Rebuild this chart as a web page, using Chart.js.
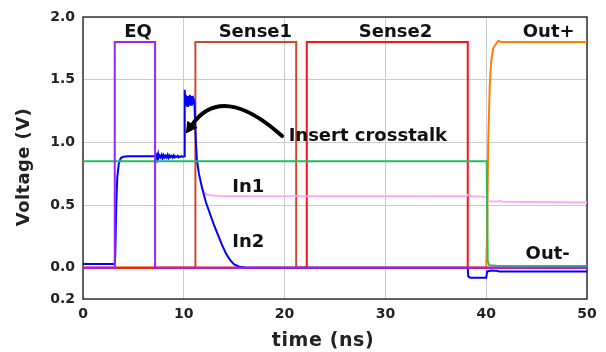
<!DOCTYPE html>
<html>
<head>
<meta charset="utf-8">
<script src="https://cdn.jsdelivr.net/npm/chart.js@4/dist/chart.umd.min.js"></script>
<style>
  html, body { margin: 0; padding: 0; background: #fff; }
  #wrap { width: 606px; height: 352px; position: relative; }
</style>
</head>
<body>
<div id="wrap"><canvas id="c" width="606" height="352"></canvas></div>
<script>
// Simulated sense-amplifier waveforms (time in ns, voltage in V)

const eqTimes = [0, 3.15, 3.15, 7.15, 7.15, 50];
const eqValues = [0, 0, 1.8, 1.8, 0, 0];

const sense1Times = [0, 11.15, 11.15, 21.15, 21.15, 50];
const sense1Values = [0, 0, 1.8, 1.8, 0, 0];

const sense2Times = [0, 22.2, 22.2, 38.17, 38.17, 50];
const sense2Values = [0, 0, 1.8, 1.8, 0, 0];

const outPlusTimes = [0, 40.0, 40.1, 40.2, 40.35, 40.5, 40.7, 41.0, 41.2, 41.5, 50];
const outPlusValues = [0, 0, 0.3, 1.0, 1.45, 1.65, 1.75, 1.79, 1.81, 1.8, 1.8];

const outMinusTimes = [0, 40.05, 40.15, 40.3, 41.0, 50];
const outMinusValues = [0.85, 0.85, 0.05, 0.02, 0.015, 0.013];

const in1Times = [11.75, 12.0, 12.4, 13.5, 38.0, 38.3, 38.5, 40.0, 40.15, 41.2, 41.4, 41.6, 50];
const in1Values = [0.66, 0.60, 0.58, 0.572, 0.57, 0.585, 0.57, 0.565, 0.53, 0.527, 0.535, 0.525, 0.52];

const in2Times = [
  0, 3.15, 3.2, 3.3, 3.4, 3.55, 3.75, 4.0, 4.5, 7.2,
  7.3, 7.35, 7.45, 7.5, 7.6, 7.7, 7.8, 7.9, 8.0, 8.1, 8.2, 8.3, 8.4, 8.5,
  8.6, 8.7, 8.8, 8.9, 9.0, 9.1, 9.2, 9.3, 9.4, 9.5, 9.6, 9.7, 9.8, 9.9, 10.0, 10.05,
  10.08, 10.1, 10.15, 10.2, 10.25, 10.3, 10.35, 10.4, 10.45, 10.5, 10.55, 10.6,
  10.65, 10.7, 10.75, 10.8, 10.85, 10.9, 10.95, 11.0, 11.05,
  11.2, 11.3, 11.5, 11.8, 12.2, 12.6, 13.0, 13.4, 13.8, 14.2, 14.6, 15.0, 15.5, 16.2,
  38.17, 38.22, 38.4, 40.0, 40.1, 40.5, 41.0, 41.3, 50
];
const in2Values = [
  0.03, 0.03, 0.1, 0.5, 0.72, 0.83, 0.875, 0.885, 0.888, 0.888,
  0.90, 0.87, 0.905, 0.875, 0.895, 0.88, 0.90, 0.872, 0.898, 0.88, 0.893, 0.878, 0.90, 0.876,
  0.894, 0.882, 0.891, 0.879, 0.896, 0.881, 0.889, 0.883, 0.892, 0.88, 0.888, 0.884, 0.89, 0.885, 0.887, 0.89,
  1.2, 1.42, 1.30, 1.38, 1.31, 1.36, 1.29, 1.37, 1.32, 1.35, 1.30, 1.38,
  1.31, 1.34, 1.30, 1.37, 1.32, 1.35, 1.31, 1.34, 1.33,
  1.0, 0.86, 0.75, 0.64, 0.52, 0.43, 0.34, 0.26, 0.18, 0.11, 0.06, 0.025, 0.008, 0.0,
  0.0, -0.07, -0.08, -0.08, -0.03, -0.022, -0.025, -0.03, -0.03
];

const xTickValues = [0, 10, 20, 30, 40, 50];
const yTickValues = [-0.25, 0, 0.5, 1.0, 1.5, 2.0];
const yTickLabels = ['0.2', '0.0', '0.5', '1.0', '1.5', '2.0'];

const FONT = "'DejaVu Sans', Verdana, sans-serif";

function zip(ts, vs) { return ts.map((t, i) => ({ x: t, y: vs[i] })); }

// text labels and the crosstalk arrow, placed in data coordinates
const labels = [
  { text: 'EQ', x: 5.46, y: 1.878, align: 'center' },
  { text: 'Sense1', x: 17.1, y: 1.878, align: 'center' },
  { text: 'Sense2', x: 31.0, y: 1.878, align: 'center' },
  { text: 'Out+', x: 46.2, y: 1.878, align: 'center' },
  { text: 'Insert crosstalk', x: 20.4, y: 1.05, align: 'left' },
  { text: 'In1', x: 16.4, y: 0.64, align: 'center' },
  { text: 'In2', x: 16.4, y: 0.20, align: 'center' },
  { text: 'Out-', x: 46.1, y: 0.11, align: 'center' }
];
const arrow = { from: [19.75, 1.05], ctrl: [13.8, 1.48], to: [10.2, 1.07] };

const annotate = {
  id: 'annotate',
  afterDatasetsDraw(chart) {
    const { ctx, scales: { x, y } } = chart;
    ctx.save();
    ctx.fillStyle = '#111';
    ctx.font = `bold 18px ${FONT}`;
    ctx.textBaseline = 'middle';
    labels.forEach(l => {
      ctx.textAlign = l.align;
      ctx.fillText(l.text, x.getPixelForValue(l.x), y.getPixelForValue(l.y));
    });
    // curved arrow
    const p0 = [x.getPixelForValue(arrow.from[0]), y.getPixelForValue(arrow.from[1])];
    const pc = [x.getPixelForValue(arrow.ctrl[0]), y.getPixelForValue(arrow.ctrl[1])];
    const p1 = [x.getPixelForValue(arrow.to[0]), y.getPixelForValue(arrow.to[1])];
    const ang = Math.atan2(p1[1] - pc[1], p1[0] - pc[0]);
    const headLen = 13;
    const back = [p1[0] - Math.cos(ang) * headLen * 0.8, p1[1] - Math.sin(ang) * headLen * 0.8];
    ctx.strokeStyle = '#000';
    ctx.lineWidth = 4;
    ctx.lineCap = 'round';
    ctx.beginPath();
    ctx.moveTo(p0[0], p0[1]);
    ctx.quadraticCurveTo(pc[0], pc[1], back[0], back[1]);
    ctx.stroke();
    ctx.fillStyle = '#000';
    ctx.beginPath();
    ctx.moveTo(p1[0], p1[1]);
    ctx.lineTo(p1[0] - headLen * Math.cos(ang - 0.5), p1[1] - headLen * Math.sin(ang - 0.5));
    ctx.lineTo(p1[0] - headLen * Math.cos(ang + 0.5), p1[1] - headLen * Math.sin(ang + 0.5));
    ctx.closePath();
    ctx.fill();
    ctx.restore();
  }
};

// frame around the plotting area and the two axis titles
const frame = {
  id: 'frame',
  beforeDatasetsDraw(chart) {
    const { ctx, chartArea: a } = chart;
    ctx.save();
    ctx.strokeStyle = '#333';
    ctx.lineWidth = 1.5;
    ctx.strokeRect(a.left, a.top, a.right - a.left, a.bottom - a.top);

    ctx.fillStyle = '#222';
    ctx.textAlign = 'center';
    ctx.textBaseline = 'middle';
    ctx.font = `bold 19px ${FONT}`;
    ctx.letterSpacing = '0.6px';
    ctx.fillText('time (ns)', a.left + 240, a.bottom + 42);

    ctx.font = `bold 18px ${FONT}`;
    ctx.letterSpacing = '0.4px';
    ctx.translate(24, a.top + 150);
    ctx.rotate(-Math.PI / 2);
    ctx.fillText('Voltage (V)', 0, 0);
    ctx.restore();
  }
};

function line(data, color, order) {
  return { data, borderColor: color, borderWidth: 2, pointRadius: 0, tension: 0, fill: false, order };
}

new Chart(document.getElementById('c'), {
  type: 'line',
  data: {
    datasets: [
      line(zip(eqTimes, eqValues), '#9922ff', 0),
      line(zip(outMinusTimes, outMinusValues), '#22bb66', 1),
      line(zip(in2Times, in2Values), '#0000ff', 2),
      line(zip(in1Times, in1Values), '#ffaaee', 3),
      line(zip(sense2Times, sense2Values), '#ff1111', 4),
      line(zip(outPlusTimes, outPlusValues), '#ff8000', 5),
      line(zip(sense1Times, sense1Values), '#cc4a2a', 6)
    ]
  },
  options: {
    responsive: false,
    animation: false,
    events: [],
    layout: { padding: { left: 0, right: 19, top: 17, bottom: 0 } },
    plugins: { legend: { display: false }, tooltip: { enabled: false } },
    scales: {
      x: {
        type: 'linear',
        min: 0, max: 50,
        afterBuildTicks: s => { s.ticks = xTickValues.map(v => ({ value: v })); },
        afterFit: s => { s.height = 53; },
        grid: { color: '#cccccc', lineWidth: 1, drawTicks: false },
        border: { display: false },
        ticks: { color: '#222', padding: 7, maxRotation: 0, font: { family: FONT, size: 14, weight: 'bold' } }
      },
      y: {
        type: 'linear',
        min: -0.25, max: 2.0,
        afterBuildTicks: s => { s.ticks = yTickValues.map(v => ({ value: v })); },
        afterFit: s => { s.width = 83; },
        grid: { color: '#cccccc', lineWidth: 1, drawTicks: false },
        border: { display: false },
        ticks: {
          color: '#222', padding: 8,
          font: { family: FONT, size: 14, weight: 'bold' },
          callback: v => yTickLabels[yTickValues.indexOf(v)]
        }
      }
    }
  },
  plugins: [frame, annotate]
});
</script>
</body>
</html>
